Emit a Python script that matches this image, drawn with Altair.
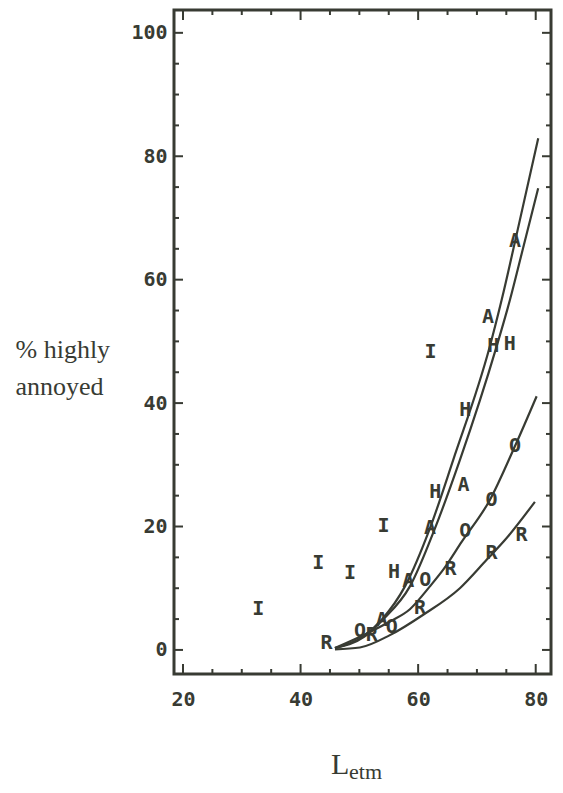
import altair as alt
import pandas as pd

INK = "#383b33"

# ---- letter points (reading of the figure) ----
I_x = [32.8, 43.0, 48.4, 54.1, 62.1]
I_y = [6.6, 14.1, 12.5, 20.1, 48.2]
H_x = [72.8, 75.6, 68.0, 62.9, 55.9]
H_y = [49.2, 49.6, 38.9, 25.6, 12.7]
A_x = [76.5, 71.9, 67.7, 62.0, 58.3, 53.8]
A_y = [66.2, 54.0, 26.7, 19.7, 11.1, 4.9]
O_x = [76.5, 72.5, 68.0, 61.2, 55.5, 50.1]
O_y = [33.0, 24.3, 19.2, 11.4, 3.7, 3.0]
R_x = [77.6, 72.5, 65.5, 60.3, 52.1, 44.4]
R_y = [18.6, 15.7, 13.1, 6.8, 2.4, 1.1]

# ---- fitted curves ----
cA_x = [45.85, 50.66, 53.8, 57.76, 62.0, 65.97, 72.2, 74.2, 76.75, 80.42]
cA_y = [0.3, 2.2, 4.9, 10.3, 19.7, 30.8, 49.2, 56.7, 67.3, 82.9]
cH_x = [45.85, 50.8, 54.0, 58.6, 62.86, 67.11, 73.35, 75.61, 77.9, 80.42]
cH_y = [0.3, 2.1, 4.9, 10.3, 19.7, 30.8, 49.2, 56.7, 65.3, 74.8]
cO_x = [45.85, 51.8, 55.2, 58.6, 62.0, 64.27, 67.4, 72.2, 76.46, 80.15]
cO_y = [0.3, 2.9, 4.6, 6.6, 10.3, 13.0, 17.5, 24.3, 33.0, 41.1]
cR_x = [45.85, 50.1, 55.2, 60.87, 67.1, 71.65, 74.76, 79.86]
cR_y = [0.1, 0.4, 2.4, 5.7, 10.0, 14.6, 17.8, 24.0]

# ---- axes ----
x_major = [20, 40, 60, 80]
x_minor = [25, 30, 35, 45, 50, 55, 65, 70, 75]
y_major = [0, 20, 40, 60, 80, 100]
y_minor = [5, 10, 15, 25, 30, 35, 45, 50, 55, 65, 70, 75, 85, 90, 95]

W, H = 377, 664
XDOM = [18.47, 82.6]
YDOM = [-3.9, 103.7]

pts = []
for lab, xs_, ys_ in [("I", I_x, I_y), ("H", H_x, H_y), ("A", A_x, A_y),
                      ("O", O_x, O_y), ("R", R_x, R_y)]:
    for a, b in zip(xs_, ys_):
        pts.append({"L": a, "P": b, "lab": lab})
pts = pd.DataFrame(pts)

cur = []
for name, xs_, ys_ in [("A", cA_x, cA_y), ("H", cH_x, cH_y),
                       ("O", cO_x, cO_y), ("R", cR_x, cR_y)]:
    for a, b in zip(xs_, ys_):
        cur.append({"L": a, "P": b, "curve": name})
cur = pd.DataFrame(cur)

xs = alt.Scale(domain=XDOM, nice=False, zero=False)
ys = alt.Scale(domain=YDOM, nice=False, zero=False)

xaxis = alt.Axis(values=x_major, grid=False, domain=False, ticks=False, tickSize=0,
                 labelFont="DejaVu Sans Mono", labelFontWeight="bold", labelFontSize=20,
                 labelColor=INK, labelPadding=15, labelBaseline="top", title=None)
yaxis = alt.Axis(values=y_major, grid=False, domain=False, ticks=False, tickSize=0,
                 labelFont="DejaVu Sans Mono", labelFontWeight="bold", labelFontSize=20,
                 labelColor=INK, labelPadding=7,
                 title=["% highly", "annoyed"], titleAngle=0, titleAlign="left",
                 titleBaseline="alphabetic", titleX=-159, titleY=347,
                 titleFont="Liberation Serif", titleFontWeight="normal",
                 titleFontSize=26, titleColor=INK, titleLineHeight=37)

lines = alt.Chart(cur).mark_line(color=INK, strokeWidth=2.2, interpolate="monotone").encode(
    x=alt.X("L:Q", scale=xs, axis=xaxis),
    y=alt.Y("P:Q", scale=ys, axis=yaxis),
    detail="curve:N",
)

letters = alt.Chart(pts).mark_text(font="DejaVu Sans Mono", fontWeight="bold",
                                   fontSize=20, color=INK, baseline="middle",
                                   align="center").encode(
    x=alt.X("L:Q", scale=xs), y=alt.Y("P:Q", scale=ys), text="lab:N")

xt = pd.DataFrame({"v": x_major + x_minor,
                   "len": [10] * len(x_major) + [5] * len(x_minor)})
yt = pd.DataFrame({"v": y_major + y_minor,
                   "len": [9] * len(y_major) + [5] * len(y_minor)})

def tick_layers():
    layers = []
    for df, kind in [(xt, "x"), (yt, "y")]:
        for ln in (10 if kind == "x" else 9, 5):
            sub = df[df["len"] == ln]
            base = alt.Chart(sub).mark_rule(color=INK, strokeWidth=2)
            if kind == "x":
                layers.append(base.encode(x=alt.X("v:Q", scale=xs),
                                          y=alt.value(H), y2=alt.value(H - ln)))
                layers.append(base.encode(x=alt.X("v:Q", scale=xs),
                                          y=alt.value(0), y2=alt.value(ln)))
            else:
                layers.append(base.encode(y=alt.Y("v:Q", scale=ys),
                                          x=alt.value(0), x2=alt.value(ln)))
                layers.append(base.encode(y=alt.Y("v:Q", scale=ys),
                                          x=alt.value(W), x2=alt.value(W - ln)))
    return layers

xtitle_L = alt.Chart(pd.DataFrame({"t": ["L"]})).mark_text(
    font="Liberation Serif", fontSize=30, color=INK, align="left",
    baseline="alphabetic").encode(text="t:N", x=alt.value(157), y=alt.value(764))
xtitle_sub = alt.Chart(pd.DataFrame({"t": ["etm"]})).mark_text(
    font="Liberation Serif", fontSize=22, color=INK, align="left",
    baseline="alphabetic").encode(text="t:N", x=alt.value(175), y=alt.value(769))

chart = alt.layer(lines, letters, *tick_layers(), xtitle_L, xtitle_sub).properties(
    width=W, height=H,
    autosize=alt.AutoSizeParams(type="none"),
    padding={"left": 166, "top": 2, "right": 4, "bottom": 110},
    background="white",
).configure_view(stroke=INK, strokeWidth=3)

chart.save("out.html", embed_options={"renderer": "svg", "actions": False})
